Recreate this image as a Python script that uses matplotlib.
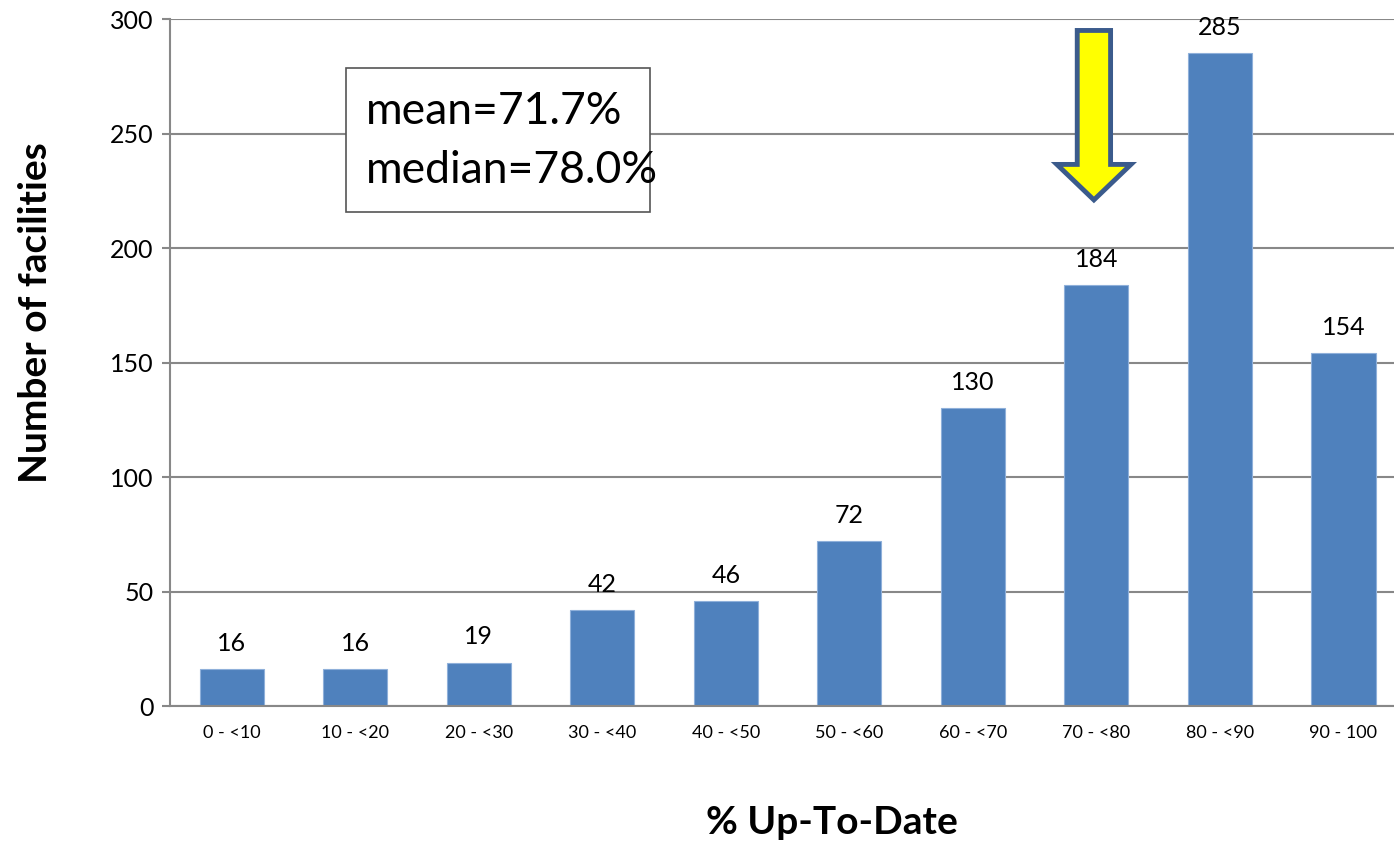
import matplotlib
matplotlib.use("Agg")
import matplotlib.pyplot as plt
from matplotlib.patches import FancyArrow, Rectangle

plt.rcParams['font.family'] = ['Lato', 'DejaVu Sans']

# Facility counts per up-to-date band
categories = ["0 - <10", "10 - <20", "20 - <30", "30 - <40", "40 - <50",
              "50 - <60", "60 - <70", "70 - <80", "80 - <90", "90 - 100"]
counts = [16, 16, 19, 42, 46, 72, 130, 184, 285, 154]
yticks = [0, 50, 100, 150, 200, 250, 300]
stats_lines = ["mean=71.7%", "median=78.0%"]
highlight_idx = 7

BAR = "#4F81BD"
GRID = "#888888"

fig = plt.figure(figsize=(13.94, 8.41), dpi=100)
ax = fig.add_axes([0.122, 0.1605, 0.886, 0.8169])

x = list(range(len(categories)))
ax.bar(x, counts, width=0.52, color=BAR, edgecolor="#8FB0DA", linewidth=0.8, zorder=3)

for xi, v in zip(x, counts):
    ax.annotate(str(v), (xi, v), xytext=(0, 13), textcoords="offset points",
                ha="center", va="baseline", fontsize=18, zorder=4)

ax.set_xlim(-0.5, len(categories) - 0.5)
ax.set_ylim(0, 300)
ax.set_yticks(yticks)
ax.set_xticks(x)
ax.set_xticklabels(categories, fontsize=13)
ax.tick_params(axis="y", labelsize=18, length=6, width=1.5, color=GRID, pad=6)
ax.tick_params(axis="x", length=0, pad=14)

ax.yaxis.grid(True, color=GRID, linewidth=1.5, zorder=0)
for side in ("top", "right"):
    ax.spines[side].set_visible(False)
for side in ("left", "bottom"):
    ax.spines[side].set_color(GRID)
    ax.spines[side].set_linewidth(1.5)
ax.spines["bottom"].set_zorder(5)

ax.set_ylabel("Number of facilities", fontsize=28, fontweight="bold", va="center")
ax.yaxis.set_label_coords(-0.109, 0.573)
ax.set_xlabel("% Up-To-Date", fontsize=28, fontweight="bold", va="center")
ax.xaxis.set_label_coords(0.536, -0.169)

# Arrow pointing at the median band
arrow = FancyArrow(highlight_idx - 0.02, 295, 0, -(295 - 221),
                   width=0.27, head_width=0.6, head_length=15.5,
                   length_includes_head=True, facecolor="#FFFF00",
                   edgecolor="#3B5B8C", linewidth=3.5, zorder=6)
ax.add_patch(arrow)

# Summary statistics box
ax.add_patch(Rectangle((0.925, 215.7), 2.46, 62.9, facecolor="white",
                       edgecolor="#555555", linewidth=1.2, zorder=6))
ax.text(1.087, 254, stats_lines[0], fontsize=32, va="baseline", ha="left", zorder=7)
ax.text(1.087, 228.5, stats_lines[1], fontsize=32, va="baseline", ha="left", zorder=7)

fig.savefig("out.png", dpi=100)
